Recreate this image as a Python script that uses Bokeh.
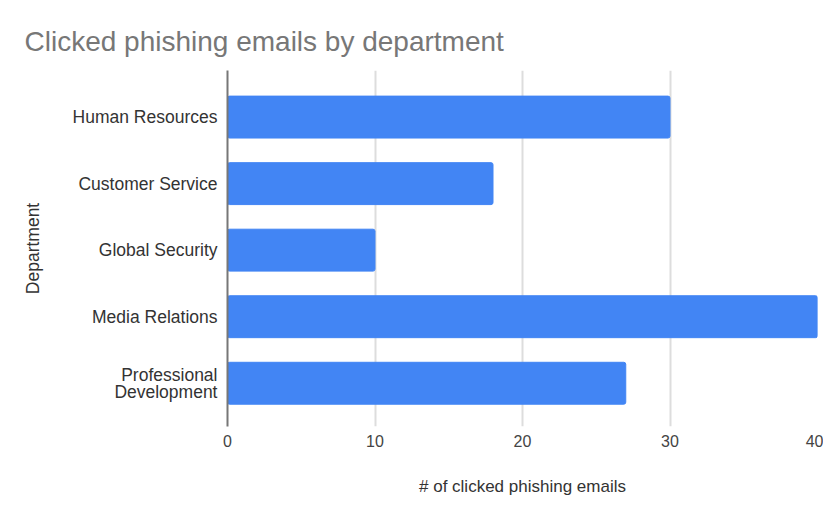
from bokeh.plotting import figure
from bokeh.models import Range1d, FixedTicker, Title
from bokeh.embed import file_html
from bokeh.resources import INLINE

departments = ["Human Resources", "Customer Service", "Global Security",
               "Media Relations", "Professional\nDevelopment"]
clicks = [30, 18, 10, 40, 27]
x_ticks = [0, 10, 20, 30, 40]

n = len(departments)
ypos = [n - 1 - i for i in range(n)]

p = figure(width=823, height=501, output_backend="svg", toolbar_location=None,
           x_range=Range1d(0, 40), y_range=Range1d(-0.65, n - 1 + 0.70),
           min_border_left=227, min_border_right=6, min_border_top=70,
           min_border_bottom=75)
p.outline_line_color = None
p.background_fill_color = "white"
p.border_fill_color = "white"

p.hbar(y=ypos, right=clicks, left=0, height=0.63, color="#4285F4",
       line_color="#4285F4", border_radius=2)

t = Title(text="Clicked phishing emails by department", align="left",
          text_font="Liberation Sans", text_font_size="28px",
          text_font_style="normal", text_color="#777777", offset=-203,
          standoff=27)
p.add_layout(t, "above")

xa = p.xaxis[0]
xa.ticker = FixedTicker(ticks=x_ticks)
xa.axis_line_color = None
xa.major_tick_line_color = None
xa.minor_tick_line_color = None
xa.major_label_standoff = 2
xa.major_label_text_font = "Liberation Sans"
xa.major_label_text_font_size = "16px"
xa.major_label_text_color = "#444444"
xa.axis_label = "# of clicked phishing emails"
xa.axis_label_text_font = "Liberation Sans"
xa.axis_label_text_font_size = "17px"
xa.axis_label_text_font_style = "normal"
xa.axis_label_text_color = "#333333"
xa.axis_label_standoff = 27

ya = p.yaxis[0]
ya.ticker = FixedTicker(ticks=ypos)
ya.major_label_overrides = {y: d for y, d in zip(ypos, departments)}
ya.axis_line_color = "#777777"
ya.axis_line_width = 2
ya.major_tick_line_color = None
ya.minor_tick_line_color = None
ya.major_label_standoff = 4
ya.major_label_text_font = "Liberation Sans"
ya.major_label_text_font_size = "17.5px"
ya.major_label_text_line_height = 0.85
ya.major_label_text_color = "#333333"
ya.axis_label = "Department"
ya.axis_label_text_font = "Liberation Sans"
ya.axis_label_text_font_size = "17.5px"
ya.axis_label_text_font_style = "normal"
ya.axis_label_text_color = "#333333"
ya.axis_label_standoff = 27

p.ygrid.grid_line_color = None
p.xgrid.grid_line_color = "#dddddd"
p.xgrid.grid_line_width = 2

open("out.html", "w").write(file_html(p, INLINE))
